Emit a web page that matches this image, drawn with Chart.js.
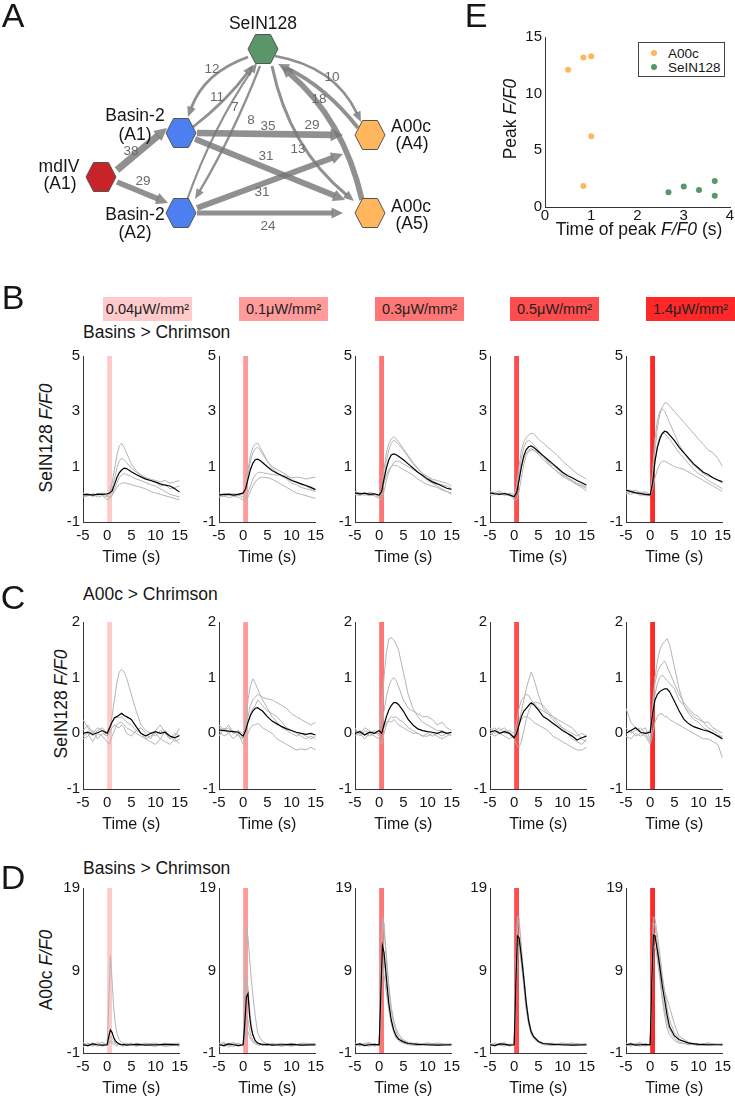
<!DOCTYPE html>
<html>
<head>
<meta charset="utf-8">
<script src="https://cdn.jsdelivr.net/npm/chart.js@4.4.1/dist/chart.umd.min.js"></script>
<style>
  body { margin: 0; background: #fff; width: 735px; height: 1099px; position: relative; overflow: hidden;
         font-family: "Liberation Sans", Arial, sans-serif; color: #161616; }
  canvas { position: absolute; }
  .t { position: absolute; white-space: nowrap; line-height: 1; transform: translate(-50%, -50%); }
  .box { position: absolute; display: flex; align-items: center; justify-content: center; font-size: 14.5px; color: #222; }
  .legend { position: absolute; border: 1px solid #444; background: #fff; font-size: 13.5px; }
  .legend div { position: absolute; white-space: nowrap; line-height: 1; }
  .dot { position: absolute; width: 6px; height: 6px; border-radius: 50%; }
</style>
</head>
<body>
<script>
// ---- data ----
const intensities = ['0.04μW/mm²', '0.1μW/mm²', '0.3μW/mm²', '0.5μW/mm²', '1.4μW/mm²'];
const stimWindow = [0, 1];

// time points (s) for rows B and C, and for row D
const tBC = [-5,-4,-3,-2,-1,0,0.5,1,1.5,2,2.5,3,3.5,4,5,6,7,8,9,10,11,12,13,14,15];
const tD = [-5,-4,-3,-2,-1,0,0.33,0.67,1,1.33,1.67,2,2.5,3,3.5,4,5,6,8,10,12,15];

// row B: Basins > Chrimson, SeIN128 F/F0
const bMean = [
  [-0.02,0.0,-0.03,0.01,0.0,0.02,0.05,0.12,0.35,0.6,0.78,0.88,0.95,0.93,0.82,0.72,0.63,0.55,0.5,0.44,0.38,0.33,0.3,0.2,0.08],
  [-0.02,0.0,0.01,-0.03,0.0,0.05,0.2,0.55,0.9,1.12,1.25,1.27,1.22,1.15,1.0,0.86,0.76,0.68,0.6,0.5,0.44,0.38,0.32,0.25,0.17],
  [0.05,0.02,0.04,0.0,0.02,-0.03,0.1,0.55,0.95,1.25,1.42,1.46,1.43,1.38,1.25,1.1,0.95,0.8,0.68,0.55,0.45,0.38,0.3,0.22,0.18],
  [0.05,0.02,0.0,0.03,-0.02,-0.08,0.05,0.5,1.0,1.4,1.62,1.72,1.75,1.7,1.55,1.4,1.25,1.1,0.95,0.8,0.68,0.6,0.5,0.42,0.33],
  [0.15,0.1,0.05,0.03,0.0,-0.02,0.4,1.2,1.7,2.0,2.2,2.28,2.25,2.15,1.95,1.7,1.5,1.3,1.1,0.95,0.8,0.72,0.6,0.52,0.45]
];
const bTrials = [
  [[-0.05,0.02,-0.08,0.0,0.05,-0.02,0.1,0.4,0.9,1.4,1.75,1.85,1.7,1.5,1.1,0.85,0.7,0.6,0.55,0.5,0.45,0.5,0.4,0.45,0.5],
   [0.02,-0.06,0.03,-0.04,0.02,-0.05,0.0,0.2,0.55,0.95,1.2,1.3,1.25,1.15,0.95,0.8,0.7,0.6,0.5,0.45,0.3,0.35,0.2,0.25,0.3],
   [-0.1,-0.05,0.0,-0.1,-0.05,-0.08,-0.1,0.0,0.2,0.4,0.6,0.7,0.75,0.72,0.65,0.55,0.5,0.42,0.35,0.3,0.2,0.1,0.0,-0.05,-0.1],
   [0.05,0.0,-0.05,0.02,-0.02,-0.2,-0.15,-0.05,0.1,0.25,0.35,0.4,0.42,0.4,0.35,0.3,0.25,0.2,0.1,0.05,0.0,-0.05,-0.1,-0.15,-0.2]],
  [[0.05,-0.05,0.0,0.02,-0.04,0.05,0.3,0.9,1.4,1.7,1.82,1.85,1.7,1.55,1.2,0.95,0.8,0.65,0.55,0.4,0.35,0.25,0.2,0.15,0.1],
   [-0.06,0.02,-0.05,0.0,0.03,0.0,0.2,0.7,1.2,1.5,1.65,1.7,1.6,1.45,1.2,1.0,0.9,0.8,0.7,0.55,0.45,0.35,0.3,0.2,0.15],
   [0.0,-0.08,0.02,-0.05,-0.02,-0.1,-0.15,0.05,0.3,0.55,0.7,0.78,0.8,0.78,0.75,0.72,0.7,0.68,0.65,0.6,0.62,0.6,0.55,0.6,0.62],
   [-0.1,-0.05,-0.12,-0.08,-0.1,-0.2,-0.25,-0.1,0.1,0.3,0.45,0.55,0.6,0.62,0.6,0.55,0.45,0.35,0.25,0.15,0.05,0.0,-0.05,-0.1,-0.15]],
  [[0.1,0.05,0.0,0.08,0.02,-0.05,0.2,0.9,1.5,1.85,2.0,2.08,2.0,1.9,1.65,1.4,1.15,0.95,0.75,0.6,0.5,0.4,0.35,0.3,0.2],
   [-0.02,0.05,0.0,-0.05,0.0,-0.1,0.0,0.6,1.2,1.6,1.85,1.95,1.9,1.8,1.6,1.35,1.1,0.9,0.75,0.65,0.55,0.5,0.45,0.4,0.3],
   [0.0,-0.05,0.05,-0.02,-0.05,-0.15,-0.2,0.1,0.5,0.8,1.0,1.15,1.2,1.2,1.1,1.0,0.9,0.8,0.65,0.5,0.4,0.3,0.2,0.1,0.05],
   [0.05,0.0,-0.03,0.03,0.0,-0.05,0.1,0.4,0.7,0.9,1.0,1.05,1.05,1.0,0.9,0.8,0.7,0.55,0.45,0.35,0.3,0.25,0.15,0.1,0.0]],
  [[0.1,0.05,0.12,0.0,0.05,0.0,0.3,1.0,1.6,1.9,2.05,2.15,2.2,2.2,2.0,1.85,1.7,1.55,1.4,1.2,1.05,0.9,0.75,0.65,0.55],
   [0.0,0.08,-0.02,0.05,0.0,-0.1,0.1,0.7,1.3,1.7,1.9,1.95,1.9,1.8,1.6,1.35,1.15,0.95,0.8,0.7,0.6,0.5,0.4,0.35,0.25],
   [-0.05,0.0,0.05,-0.05,0.02,-0.2,-0.2,0.1,0.6,1.1,1.4,1.55,1.6,1.6,1.5,1.35,1.2,1.05,0.9,0.75,0.6,0.5,0.35,0.25,0.1],
   [0.08,-0.02,0.04,0.0,-0.05,-0.12,0.0,0.5,1.0,1.3,1.5,1.6,1.65,1.6,1.45,1.25,1.1,0.95,0.8,0.65,0.55,0.45,0.35,0.3,0.2]],
  [[0.2,0.1,0.15,0.05,0.1,0.0,0.6,1.6,2.4,2.9,3.15,3.3,3.3,3.2,3.0,2.8,2.6,2.4,2.2,2.0,1.8,1.6,1.5,1.3,1.0],
   [0.1,0.15,0.05,0.08,0.0,-0.05,0.8,2.0,2.7,3.0,3.1,3.0,2.8,2.6,2.2,1.8,1.5,1.25,1.05,0.9,0.75,0.65,0.6,0.5,0.4],
   [0.0,0.1,0.05,-0.05,0.05,0.0,0.4,1.2,1.8,2.1,2.2,2.2,2.1,2.0,1.75,1.5,1.3,1.1,0.9,0.75,0.65,0.5,0.4,0.3,0.2],
   [0.05,0.0,0.08,0.0,-0.05,-0.05,0.2,0.6,0.9,1.1,1.2,1.2,1.15,1.1,1.0,0.95,0.9,0.8,0.7,0.6,0.5,0.4,0.3,0.2,0.1]]
];

// row C: A00c > Chrimson, SeIN128 F/F0
const cMean = [
  [0.0,0.02,-0.02,0.01,0.05,0.0,0.1,0.2,0.28,0.3,0.33,0.36,0.32,0.3,0.25,0.12,0.0,-0.05,0.0,0.03,0.0,0.02,-0.05,-0.08,-0.04],
  [0.06,0.05,0.04,0.03,0.02,-0.05,0.05,0.2,0.32,0.4,0.45,0.46,0.43,0.4,0.3,0.22,0.17,0.12,0.08,0.05,0.02,0.0,-0.02,0.0,-0.03],
  [0.0,0.03,-0.03,0.02,0.0,0.05,0.0,0.15,0.3,0.42,0.5,0.55,0.55,0.52,0.4,0.25,0.15,0.08,0.05,0.03,0.02,0.0,0.03,0.0,0.02],
  [0.02,0.05,0.0,0.03,0.0,-0.08,0.0,0.15,0.3,0.4,0.45,0.5,0.55,0.52,0.42,0.3,0.25,0.18,0.12,0.05,0.0,-0.05,-0.12,-0.08,-0.05],
  [0.0,0.05,0.1,0.02,0.0,0.02,0.35,0.6,0.7,0.75,0.78,0.8,0.8,0.75,0.58,0.4,0.25,0.17,0.12,0.09,0.06,0.04,0.0,-0.05,-0.1]
];
const cTrials = [
  [[0.05,0.15,0.0,0.1,0.05,-0.05,0.05,0.3,0.6,0.9,1.1,1.15,1.1,1.0,0.7,0.4,0.15,0.05,0.0,-0.05,0.05,0.0,-0.1,0.0,-0.05],
   [0.25,0.1,-0.05,0.05,0.1,0.0,0.1,0.2,0.25,0.3,0.28,0.3,0.25,0.2,0.15,0.05,0.1,0.0,-0.1,0.05,0.15,0.0,-0.1,-0.05,0.1],
   [-0.05,0.0,-0.15,0.0,-0.05,-0.15,-0.2,-0.05,0.05,0.15,0.2,0.2,0.15,0.1,0.05,0.0,-0.05,-0.1,-0.15,-0.2,-0.1,-0.15,-0.2,-0.1,-0.2],
   [-0.1,-0.05,0.05,-0.1,0.0,-0.05,0.0,0.1,0.15,0.12,0.1,0.15,0.1,0.0,-0.05,0.05,0.0,-0.1,-0.05,0.0,-0.1,0.05,-0.05,-0.15,-0.1]],
  [[0.1,0.05,0.15,0.0,0.05,-0.1,0.2,0.6,0.85,0.98,0.9,0.8,0.7,0.6,0.45,0.3,0.2,0.1,0.05,0.0,-0.05,0.0,-0.05,-0.1,-0.05],
   [0.15,0.05,0.1,0.0,0.05,0.0,0.1,0.3,0.5,0.6,0.65,0.7,0.68,0.65,0.62,0.6,0.55,0.5,0.45,0.35,0.3,0.25,0.2,0.15,0.2],
   [-0.05,0.1,0.0,0.05,-0.05,-0.1,0.0,0.2,0.35,0.45,0.5,0.6,0.55,0.5,0.4,0.35,0.3,0.2,0.1,0.05,0.0,-0.05,-0.1,-0.05,-0.1],
   [0.05,-0.05,0.0,-0.1,0.0,-0.2,-0.1,0.0,0.1,0.15,0.15,0.18,0.15,0.1,0.05,0.0,-0.1,-0.15,-0.2,-0.25,-0.3,-0.28,-0.3,-0.25,-0.3]],
  [[0.05,0.0,0.1,0.05,0.0,0.0,0.4,1.0,1.45,1.7,1.72,1.68,1.6,1.5,1.1,0.7,0.45,0.3,0.2,0.15,0.1,0.05,0.05,0.0,0.02],
   [0.1,-0.05,0.05,0.0,0.05,-0.05,0.1,0.4,0.65,0.85,0.95,1.0,0.95,0.85,0.6,0.45,0.4,0.35,0.3,0.3,0.25,0.15,0.2,0.1,0.05],
   [-0.05,0.0,-0.1,0.0,-0.05,-0.1,-0.2,0.0,0.15,0.25,0.3,0.28,0.3,0.25,0.2,0.1,0.05,0.0,-0.05,-0.05,0.0,-0.05,-0.1,-0.05,0.0],
   [0.0,0.05,0.0,-0.05,0.0,0.0,0.05,0.1,0.2,0.22,0.2,0.25,0.2,0.15,0.1,0.05,0.0,0.0,-0.05,0.0,-0.05,0.0,-0.05,0.0,-0.05]],
  [[0.05,0.1,0.0,0.05,0.02,-0.05,0.05,0.2,0.4,0.6,0.8,0.95,1.1,1.0,0.7,0.45,0.35,0.25,0.15,0.1,0.05,0.0,-0.05,0.0,-0.05],
   [0.1,0.0,0.05,0.1,0.0,-0.1,-0.2,-0.25,-0.15,0.05,0.25,0.4,0.5,0.55,0.55,0.5,0.4,0.3,0.2,0.1,0.0,-0.1,-0.15,-0.2,-0.1],
   [-0.05,0.05,0.1,0.0,0.05,0.0,0.2,0.45,0.6,0.65,0.7,0.68,0.6,0.55,0.45,0.4,0.35,0.3,0.25,0.2,0.15,0.1,0.0,-0.1,-0.15],
   [0.0,-0.05,0.0,-0.05,-0.1,-0.05,0.05,0.15,0.25,0.3,0.3,0.28,0.25,0.2,0.15,0.1,0.05,-0.05,-0.1,-0.15,-0.2,-0.25,-0.3,-0.3,-0.25]],
  [[0.1,0.0,0.05,0.1,0.0,0.05,0.5,1.0,1.3,1.5,1.6,1.65,1.7,1.6,1.2,0.8,0.5,0.35,0.25,0.2,0.1,0.05,0.0,-0.05,-0.05],
   [0.45,0.2,0.1,0.05,0.1,-0.1,0.4,0.9,1.1,1.2,1.25,1.3,1.2,1.1,0.9,0.7,0.55,0.45,0.35,0.3,0.2,0.2,0.1,0.05,0.0],
   [-0.05,-0.1,0.0,-0.05,0.0,-0.15,0.3,0.7,0.9,1.0,1.05,1.0,0.95,0.9,0.8,0.6,0.5,0.4,0.3,0.25,0.2,0.1,0.05,0.0,-0.1],
   [0.0,0.05,-0.05,0.0,-0.05,-0.2,0.0,0.2,0.3,0.35,0.35,0.3,0.3,0.25,0.2,0.15,0.1,0.05,0.0,-0.05,-0.1,-0.1,-0.15,-0.2,-0.45]]
];

// row D: Basins > Chrimson, A00c F/F0
const dMean = [
  [0.0,-0.1,0.1,0.0,-0.05,0.0,1.0,1.8,1.5,0.9,0.5,0.3,0.1,0.0,0.05,-0.05,0.0,0.05,-0.05,0.0,0.05,0.0],
  [0.0,-0.1,0.1,0.0,-0.1,0.0,2.5,5.8,6.2,3.5,2.0,1.2,0.5,0.2,0.1,0.0,0.05,-0.05,0.0,0.05,-0.05,0.0],
  [0.0,0.1,-0.1,0.0,0.05,0.0,6.0,12.0,11.2,9.2,7.0,5.0,3.0,1.8,1.1,0.7,0.35,0.15,0.05,0.0,-0.05,0.0],
  [0.0,-0.1,0.1,0.05,-0.05,0.0,7.0,13.2,13.0,11.5,9.8,8.0,5.0,2.9,1.6,1.0,0.4,0.15,0.05,0.0,-0.05,0.0],
  [0.0,0.1,-0.05,0.0,0.05,0.0,7.5,13.3,13.2,12.0,10.8,9.4,7.2,5.4,3.6,2.2,1.1,0.6,0.2,0.05,0.0,0.0]
];
const dTrials = [
  [[0.1,-0.2,0.2,0.0,-0.1,0.1,5.0,10.8,8.0,4.6,2.6,1.4,0.6,0.3,0.1,0.0,0.1,-0.1,0.1,0.0,0.1,0.0],
   [-0.2,0.2,-0.1,0.3,-0.2,0.0,0.5,1.0,0.8,0.5,0.3,0.2,0.1,0.0,0.2,-0.1,0.1,-0.2,0.2,-0.1,0.2,-0.2],
   [0.3,-0.1,0.2,-0.2,0.1,-0.1,0.2,0.5,0.4,0.3,0.2,0.0,0.1,-0.2,0.0,0.2,-0.1,0.2,0.0,-0.2,0.1,0.2],
   [-0.3,0.2,-0.2,0.1,0.3,0.0,0.1,0.3,0.2,0.1,0.0,-0.2,0.1,0.0,-0.2,0.1,0.2,-0.1,0.1,0.2,-0.2,0.0]],
  [[0.2,-0.2,0.0,0.3,-0.1,0.1,8.0,14.5,13.0,10.5,8.0,6.0,3.5,1.4,0.8,0.4,0.1,0.0,0.2,-0.1,0.1,0.0],
   [-0.2,0.2,-0.3,0.1,0.2,-0.1,3.0,8.0,7.0,4.5,2.5,1.2,0.4,0.2,0.0,0.1,-0.1,0.2,-0.2,0.1,0.0,-0.1],
   [0.1,0.3,-0.1,-0.2,0.1,0.0,1.0,3.5,3.0,1.8,1.0,0.5,0.2,0.1,0.2,-0.1,0.2,-0.1,0.1,-0.2,0.2,0.1],
   [-0.1,0.0,0.2,0.1,-0.2,0.1,0.5,2.0,1.6,1.0,0.6,0.3,0.1,0.0,-0.1,0.2,0.0,0.1,-0.1,0.2,-0.1,0.2]],
  [[0.2,-0.1,0.1,0.3,-0.2,0.1,8.0,15.5,14.0,11.5,9.0,6.8,4.2,2.6,1.6,1.0,0.5,0.25,0.1,0.2,-0.1,0.1],
   [-0.1,0.2,0.0,-0.2,0.1,0.0,7.0,13.5,14.8,12.0,9.5,7.2,4.6,3.0,2.0,1.3,0.6,0.3,0.0,0.2,0.1,-0.1],
   [0.1,-0.2,0.2,0.0,-0.1,0.1,5.0,10.0,8.5,7.0,5.5,4.2,2.8,1.8,1.1,0.7,0.3,0.1,0.2,-0.1,0.0,0.1],
   [-0.2,0.1,-0.1,0.2,0.0,-0.1,4.0,9.5,10.5,8.5,6.2,4.5,2.6,1.5,0.8,0.5,0.2,0.0,-0.1,0.1,0.2,0.0]],
  [[0.2,-0.1,0.1,0.3,-0.2,0.1,9.0,15.5,15.5,13.0,10.5,8.5,5.5,3.2,1.8,1.1,0.5,0.2,0.1,0.2,-0.1,0.1],
   [-0.1,0.2,0.0,-0.2,0.1,0.0,8.0,14.5,15.0,12.5,10.0,8.0,5.0,2.8,1.6,1.0,0.4,0.1,0.0,0.2,0.1,-0.1],
   [0.1,-0.2,0.2,0.0,-0.1,0.1,6.0,10.2,12.0,10.5,9.0,7.2,4.5,2.6,1.4,0.8,0.3,0.1,0.2,-0.1,0.0,0.1],
   [-0.2,0.1,-0.1,0.2,0.0,-0.1,6.5,12.5,13.0,11.0,9.0,7.0,4.2,2.5,1.3,0.8,0.3,0.0,-0.1,0.1,0.2,0.0]],
  [[0.2,-0.1,0.1,0.3,-0.2,0.1,9.0,15.5,15.3,14.0,12.5,11.0,8.5,6.5,4.5,3.0,1.5,0.7,0.2,0.1,-0.1,0.1],
   [-0.1,0.2,0.0,-0.2,0.1,0.0,8.0,14.8,14.5,13.0,11.5,10.0,8.0,6.5,5.5,4.6,2.5,1.0,0.3,0.0,0.2,-0.1],
   [0.1,-0.2,0.2,0.0,-0.1,0.1,6.0,11.5,12.0,11.0,9.5,8.0,5.5,3.5,2.0,1.2,0.5,0.2,0.1,-0.1,0.0,0.1],
   [-0.2,0.1,-0.1,0.2,0.0,-0.1,7.0,13.0,13.5,12.0,10.0,8.5,6.0,4.2,2.8,1.8,0.8,0.3,0.0,0.1,0.2,0.0]]
];

// panel E: time of peak vs peak F/F0
const a00cTime = [0.5, 0.83, 1.0, 1.0, 0.83];
const a00cPeak = [12.1, 13.2, 13.3, 6.25, 1.85];
const seinTime = [2.67, 3.0, 3.33, 3.67, 3.67];
const seinPeak = [1.3, 1.8, 1.5, 2.3, 1.0];

// panel A: connectivity (synapse counts)
const nodeIds = ['mdIV', 'Basin-2 A1', 'Basin-2 A2', 'SeIN128', 'A00c A4', 'A00c A5'];
const edgeFrom = [0, 0, 3, 1, 2, 3, 1, 1, 2, 2, 3, 4, 5, 3];
const edgeTo   = [1, 2, 1, 3, 3, 2, 4, 5, 4, 5, 4, 3, 3, 5];
const edgeWeight = [38, 29, 12, 11, 7, 8, 35, 31, 31, 24, 10, 18, 29, 13];

// ---- layout / style ----
const stimColors = ['#ffcaca', '#ff9b9b', '#ff7676', '#ff4c4c', '#ff2828'];
const axisLeft = [83, 219, 355, 490, 626];
const plotW = 100;
const nodeX = [101, 181, 181, 263, 370, 370];
const nodeY = [177, 133, 213, 49, 135, 213];
const nodeColors = ['#c9232a', '#4d7ff0', '#4d7ff0', '#5a9669', '#ffb65c', '#ffb65c'];
// start dx,dy / end dx,dy relative to node centres, and curve bulge
const edgeGeom = [
  [16,-7,-14,-5,0], [16,5,-13,-10,0], [-15,8,7,-16,10], [12,-6,-10,16,3],
  [6,-13,-6,14,-5], [-3,17,14,-14,-3], [16,0,-27,0,0], [14,6,-25,-13,0],
  [16,-5,-27,19,0], [16,0,-27,0,0], [12,7,-9,-13,-14], [-12,-7,15,15,6],
  [-8,-13,18,17,13], [9,17,-16,-12,14]
];
const edgeLabelPos = [[131,151],[143,181],[212,69],[217,97],[235,107],[251,120],[268,126],
                      [266,156],[262,192],[268,226],[332,77],[319,99],[312,125],[298,149]];

Chart.defaults.font.family = '"Liberation Sans", Arial, sans-serif';
Chart.defaults.color = '#161616';

function addText(html, x, y, size, extra) {
  const d = document.createElement('div');
  d.className = 't';
  d.innerHTML = html;
  d.style.left = x + 'px';
  d.style.top = y + 'px';
  d.style.fontSize = size + 'px';
  if (extra) Object.assign(d.style, extra);
  document.body.appendChild(d);
  return d;
}

function makeCanvas(left, top, w, h) {
  const c = document.createElement('canvas');
  c.width = w; c.height = h;
  c.style.left = left + 'px'; c.style.top = top + 'px';
  c.style.width = w + 'px'; c.style.height = h + 'px';
  document.body.appendChild(c);
  return c;
}

// red light-stimulus bar behind the traces
const stimPlugin = {
  id: 'stim',
  beforeDatasetsDraw(chart, args, opts) {
    const {ctx, chartArea, scales: {x}} = chart;
    const x0 = x.getPixelForValue(stimWindow[0]);
    const x1 = x.getPixelForValue(stimWindow[1]);
    ctx.save();
    ctx.fillStyle = opts.color;
    ctx.fillRect(x0, chartArea.top, x1 - x0, chartArea.bottom - chartArea.top);
    ctx.restore();
  }
};

function traceChart(left, top, plotH, times, mean, trials, yMin, yMax, yStep, color) {
  const c = makeCanvas(left - 40, top - 10, 40 + plotW + 10, plotH + 10 + 46);
  const ds = [{ data: times.map((t, i) => ({x: t, y: mean[i]})), borderColor: '#000', borderWidth: 1.2 }];
  trials.forEach(tr => ds.push({ data: times.map((t, i) => ({x: t, y: tr[i]})), borderColor: '#b4b4b4', borderWidth: 1 }));
  new Chart(c, {
    type: 'line',
    data: { datasets: ds },
    options: {
      responsive: false, animation: false, events: [],
      layout: { autoPadding: false, padding: { top: 10, right: 10, left: 0, bottom: 0 } },
      elements: { point: { radius: 0 }, line: { tension: 0 } },
      plugins: { legend: { display: false }, tooltip: { enabled: false }, stim: { color: color } },
      scales: {
        x: {
          type: 'linear', min: -5, max: 15,
          ticks: { stepSize: 5, padding: 5, color: '#161616', font: { size: 15 }, maxRotation: 0 },
          grid: { display: false, drawTicks: false },
          border: { color: '#333', width: 1 },
          title: { display: true, text: 'Time (s)', color: '#161616', font: { size: 16 }, padding: { top: 0, bottom: 1 } },
          afterFit: s => { s.height = 46; }
        },
        y: {
          min: yMin, max: yMax,
          ticks: { stepSize: yStep, padding: 3, color: '#161616', font: { size: 15 } },
          grid: { display: false, drawTicks: false },
          border: { color: '#333', width: 1 },
          afterFit: s => { s.width = 40; }
        }
      }
    },
    plugins: [stimPlugin]
  });
}

// ---- panel A: network diagram ----
function hexImage(color) {
  const c = document.createElement('canvas');
  c.width = 32; c.height = 32;
  const g = c.getContext('2d');
  g.beginPath();
  g.moveTo(1, 16); g.lineTo(8.5, 1.5); g.lineTo(23.5, 1.5);
  g.lineTo(31, 16); g.lineTo(23.5, 30.5); g.lineTo(8.5, 30.5);
  g.closePath();
  g.fillStyle = color; g.fill();
  g.strokeStyle = '#555'; g.lineWidth = 1; g.stroke();
  return c;
}
const hexImages = nodeColors.map(hexImage);

const edgePlugin = {
  id: 'edges',
  beforeDatasetsDraw(chart) {
    const {ctx, scales: {x, y}} = chart;
    ctx.save();
    ctx.strokeStyle = 'rgba(120,120,120,0.82)';
    ctx.fillStyle = 'rgba(120,120,120,0.82)';
    edgeFrom.forEach((f, i) => {
      const t = edgeTo[i], g = edgeGeom[i];
      const w = 1 + edgeWeight[i] * 0.16;
      const p0 = {x: x.getPixelForValue(nodeX[f] + g[0]), y: y.getPixelForValue(nodeY[f] + g[1])};
      const p1 = {x: x.getPixelForValue(nodeX[t] + g[2]), y: y.getPixelForValue(nodeY[t] + g[3])};
      const dx = p1.x - p0.x, dy = p1.y - p0.y, len = Math.hypot(dx, dy);
      const nx = -dy / len, ny = dx / len;
      const cp = {x: (p0.x + p1.x) / 2 + nx * 2 * g[4], y: (p0.y + p1.y) / 2 + ny * 2 * g[4]};
      let tx = p1.x - cp.x, ty = p1.y - cp.y;
      const tl = Math.hypot(tx, ty); tx /= tl; ty /= tl;
      const hl = 9 + w * 0.5, hw = 3 + w * 0.5;
      const base = {x: p1.x - tx * hl, y: p1.y - ty * hl};
      ctx.lineWidth = w;
      ctx.beginPath();
      ctx.moveTo(p0.x, p0.y);
      ctx.quadraticCurveTo(cp.x, cp.y, base.x + tx, base.y + ty);
      ctx.stroke();
      ctx.beginPath();
      ctx.moveTo(p1.x, p1.y);
      ctx.lineTo(base.x - ty * hw, base.y + tx * hw);
      ctx.lineTo(base.x + ty * hw, base.y - tx * hw);
      ctx.closePath();
      ctx.fill();
    });
    ctx.restore();
  }
};

const cA = makeCanvas(0, 0, 440, 260);
new Chart(cA, {
  type: 'scatter',
  data: { datasets: [{
    data: nodeX.map((v, i) => ({x: v, y: nodeY[i]})),
    pointStyle: ctx => hexImages[ctx.dataIndex],
    pointRadius: 15
  }] },
  options: {
    responsive: false, animation: false, events: [],
    layout: { autoPadding: false, padding: 0 },
    plugins: { legend: { display: false }, tooltip: { enabled: false } },
    scales: {
      x: { display: false, min: 0, max: 440 },
      y: { display: false, min: 0, max: 260, reverse: true }
    }
  },
  plugins: [edgePlugin]
});

edgeWeight.forEach((w, i) => addText(String(w), edgeLabelPos[i][0], edgeLabelPos[i][1], 13.5, { color: '#6a6a6a' }));
addText('SeIN128', 263, 24, 17.5);
addText('Basin-2', 135, 116, 17.5); addText('(A1)', 135, 135, 17.5);
addText('Basin-2', 135, 215, 17.5); addText('(A2)', 135, 233, 17.5);
addText('mdIV', 59, 167, 17.5); addText('(A1)', 60, 184, 17.5);
addText('A00c', 411, 127, 17.5); addText('(A4)', 412, 144, 17.5);
addText('A00c', 411, 207, 17.5); addText('(A5)', 412, 224, 17.5);

// ---- panel E ----
const cE = makeCanvas(505, 25, 230, 10 + 172 + 22);
new Chart(cE, {
  type: 'scatter',
  data: { datasets: [
    { data: a00cTime.map((t, i) => ({x: t, y: a00cPeak[i]})), backgroundColor: '#ffb65c', borderWidth: 0, pointRadius: 3 },
    { data: seinTime.map((t, i) => ({x: t, y: seinPeak[i]})), backgroundColor: '#5a9669', borderWidth: 0, pointRadius: 3 }
  ] },
  options: {
    responsive: false, animation: false, events: [],
    layout: { autoPadding: false, padding: { top: 10, right: 5, left: 0, bottom: 0 } },
    plugins: { legend: { display: false }, tooltip: { enabled: false } },
    scales: {
      x: { min: 0, max: 4, ticks: { stepSize: 1, padding: 0, color: '#161616', font: { size: 15 }, maxRotation: 0 },
           grid: { display: false, drawTicks: false }, border: { color: '#333' }, afterFit: s => { s.height = 22; } },
      y: { min: 0, max: 15, ticks: { stepSize: 5, padding: 3, color: '#161616', font: { size: 15 } },
           grid: { display: false, drawTicks: false }, border: { color: '#333' }, afterFit: s => { s.width = 40; } }
    }
  }
});
addText('Peak <i>F/F0</i>', 511, 119, 17.5, { transform: 'translate(-50%,-50%) rotate(-90deg)' });
addText('Time of peak <i>F/F0</i> (s)', 639, 230, 17.5);
const lg = document.createElement('div');
lg.className = 'legend';
Object.assign(lg.style, { left: '638px', top: '42px', width: '85px', height: '33px' });
lg.innerHTML = '<span class="dot" style="left:12px;top:7px;background:#ffb65c"></span><div style="left:29px;top:4px">A00c</div>' +
               '<span class="dot" style="left:12px;top:21px;background:#5a9669"></span><div style="left:29px;top:18px">SeIN128</div>';
document.body.appendChild(lg);

// ---- panel letters, headers ----
addText('A', 13, 15, 34);
addText('E', 476, 15, 34);
addText('B', 13, 297, 34);
addText('C', 13, 597, 34);
addText('D', 13, 877, 34);

intensities.forEach((txt, i) => {
  const b = document.createElement('div');
  b.className = 'box';
  b.textContent = txt;
  Object.assign(b.style, { left: (axisLeft[i] + 20) + 'px', top: '297px', width: '89px', height: '24px', background: stimColors[i] });
  document.body.appendChild(b);
});

const leftText = { transform: 'translate(0,-50%)' };
addText('Basins &gt; Chrimson', 83, 333, 17.5, leftText);
addText('A00c &gt; Chrimson', 83, 595, 17.5, leftText);
addText('Basins &gt; Chrimson', 83, 869, 17.5, leftText);

const rot = { transform: 'translate(-50%,-50%) rotate(-90deg)' };
addText('SeIN128 <i>F/F0</i>', 47, 438, 17.5, rot);
addText('SeIN128 <i>F/F0</i>', 62, 704, 17.5, rot);
addText('A00c <i>F/F0</i>', 47, 970, 17.5, rot);

// ---- rows B, C, D ----
for (let i = 0; i < 5; i++) {
  traceChart(axisLeft[i], 354, 168, tBC, bMean[i], bTrials[i], -1, 5, 2, stimColors[i]);
  traceChart(axisLeft[i], 620, 169, tBC, cMean[i], cTrials[i], -1, 2, 1, stimColors[i]);
  traceChart(axisLeft[i], 886, 167, tD, dMean[i], dTrials[i], -1, 19, 10, stimColors[i]);
}
</script>
</body>
</html>
